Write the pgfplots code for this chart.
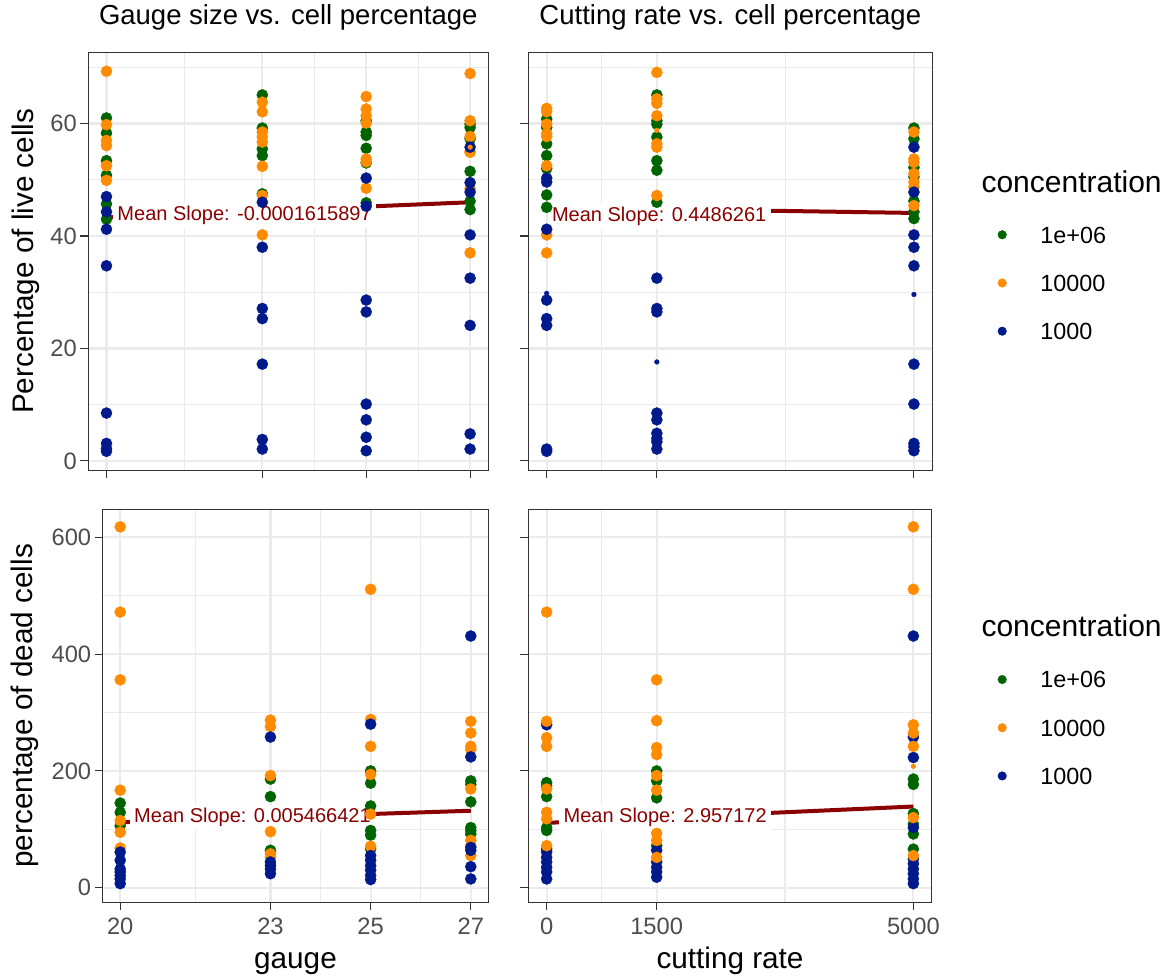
\documentclass[border=0pt]{standalone}
\usepackage{fontspec}
\setmainfont{Liberation Sans}
\usepackage{pgfplots}
\pgfplotsset{compat=1.18}
\definecolor{cgreen}{RGB}{0,100,0}
\definecolor{corange}{RGB}{255,140,0}
\definecolor{cblue}{RGB}{0,26,140}
\definecolor{cred}{RGB}{139,0,0}
\definecolor{gridc}{RGB}{235,235,235}
\definecolor{borderc}{RGB}{51,51,51}
\definecolor{tickc}{RGB}{77,77,77}
\tikzset{
  mslab/.style={anchor=west, fill=white, text=cred, inner xsep=4.5bp, inner ysep=2.8bp,
    text height=14.5bp, text depth=4.5bp, font=\fontsize{20bp}{24bp}\selectfont},
}
\pgfplotsset{
  panel/.style={
    scale only axis,
    axis line style={draw=borderc, line width=1.1bp},
    grid=both,
    major grid style={draw=gridc, line width=2.2bp},
    minor grid style={draw=gridc, line width=1.1bp},
    tick style={draw=borderc, line width=1.1bp},
    major tick length=8bp,
    minor tick length=0bp,
    tick align=outside,
    xtick pos=bottom, ytick pos=left,
    xticklabel shift=4bp,
    /pgf/number format/assume math mode=true,
    ticklabel style={font=\fontsize{23.7bp}{28bp}\selectfont, text=tickc},
    label style={font=\fontsize{29.7bp}{34bp}\selectfont, text=black},
    title style={font=\fontsize{27.5bp}{32bp}\selectfont, text=black},
  },
  gpt/.style={only marks, mark=*, mark size=5.6bp, color=#1, mark options={fill=#1, draw=#1, line width=0.3bp}, forget plot},
  spt/.style={only marks, mark=*, mark size=2.4bp, color=#1, mark options={fill=#1, draw=#1, line width=0.3bp}, forget plot},
  slope/.style={cred, line width=4bp, forget plot},
  leg/.style={
    legend style={at={#1}, anchor=north west, draw=none, fill=none, inner sep=0pt, outer sep=0pt,
      font=\fontsize{23.4bp}{28bp}\selectfont, row sep=26.2bp,
      nodes={inner sep=0pt, text height=17bp, text depth=5bp},
      /tikz/every odd column/.style={column sep=33.7bp}},
    legend cell align=left,
    legend image code/.code={\fill (0bp,2.4bp) circle (4.3bp);},
  },
}
\begin{document}
\begin{tikzpicture}
\path[use as bounding box] (0,0) rectangle (1171bp,977bp);

% ---------------- top-left: gauge vs live ----------------
\begin{axis}[panel, at={(88.3bp,506.7bp)}, anchor=south west,
  width=400bp, height=418bp,
  xmin=19.65, xmax=27.35, ymin=-1.68, ymax=72.68,
  xtick={20,23,25,27}, xticklabels={}, minor xtick={21.5,24,26},
  ytick={0,20,40,60}, yticklabels={0,20,40,60}, minor ytick={10,30,50,70},
  ylabel={Percentage of live cells},
  ylabel style={at={(axis description cs:-0.138,0.5)}, anchor=base},
  title={Gauge size vs. cell percentage},
  title style={at={(axis description cs:0.5,1.0517)}, anchor=base},
]
\addplot[gpt=cgreen] coordinates {
(20,61.0) (20,58.3) (20,53.4) (20,50.8) (20,45.7) (20,43.0)
(23,65.1) (23,59.2) (23,55.5) (23,54.3) (23,47.5)
(25,60.5) (25,58.5) (25,57.9) (25,55.6) (25,53.0) (25,45.9)
(27,59.9) (27,59.3) (27,57.3) (27,51.5) (27,46.2) (27,44.7)};
\addplot[gpt=corange] coordinates {
(20,69.3) (20,59.8) (20,57.0) (20,56.1) (20,52.5) (20,49.9)
(23,63.8) (23,62.1) (23,58.5) (23,57.6) (23,56.7) (23,52.4) (23,47.2) (23,40.2)
(25,64.8) (25,62.6) (25,61.4) (25,60.1) (25,53.7) (25,53.2) (25,48.5)
(27,68.9) (27,60.5) (27,57.7) (27,55.0) (27,54.9) (27,48.4) (27,37.0)};
\addplot[gpt=cblue] coordinates {
(20,47.0) (20,44.3) (20,41.2) (20,34.7) (20,8.5) (20,3.1) (20,2.2) (20,1.7)
(23,46.0) (23,38.0) (23,27.1) (23,25.3) (23,17.2) (23,3.8) (23,2.1)
(25,50.3) (25,45.3) (25,28.6) (25,26.5) (25,10.1) (25,7.3) (25,4.2) (25,1.8)
(27,55.8) (27,49.5) (27,47.8) (27,40.2) (27,32.5) (27,24.1) (27,4.8) (27,2.1)};
\addplot[spt=corange] coordinates {(27,55.8) (20,52.2)};
\addplot[slope] coordinates {(20,43.3) (27,46.0)};
\node[mslab, xshift=6.3bp] at (axis cs:20,43.67) {Mean Slope: -0.0001615897};
\end{axis}

% ---------------- top-right: cutting rate vs live ----------------
\begin{axis}[panel, at={(528.3bp,506.7bp)}, anchor=south west,
  width=404bp, height=418bp,
  xmin=-250, xmax=5250, ymin=-1.68, ymax=72.68,
  xtick={0,1500,5000}, xticklabels={}, minor xtick={750,3250},
  ytick={0,20,40,60}, yticklabels={}, minor ytick={10,30,50,70},
  title={Cutting rate vs. cell percentage},
  title style={at={(axis description cs:0.5,1.0517)}, anchor=base},
  leg={(1.1619,0.5840)},
]
\addplot[gpt=cgreen] coordinates {
(0,60.8) (0,59.3) (0,56.4) (0,54.3) (0,52.0) (0,47.3) (0,45.1)
(1500,65.1) (1500,60.5) (1500,59.9) (1500,57.6) (1500,53.4) (1500,51.7) (1500,46.0)
(5000,59.2) (5000,57.3) (5000,52.2) (5000,50.5) (5000,46.2) (5000,44.3) (5000,43.1)};
\addplot[gpt=corange] coordinates {
(0,62.7) (0,62.1) (0,59.9) (0,58.2) (0,57.7) (0,52.5) (0,40.2) (0,37.0)
(1500,69.1) (1500,64.4) (1500,63.6) (1500,61.4) (1500,56.4) (1500,55.8) (1500,47.2)
(5000,58.5) (5000,53.7) (5000,53.1) (5000,51.1) (5000,49.6) (5000,48.7) (5000,45.4)};
\addplot[gpt=cblue] coordinates {
(0,50.3) (0,49.6) (0,41.2) (0,28.6) (0,25.3) (0,24.1) (0,2.1) (0,1.7)
(1500,32.5) (1500,27.1) (1500,26.5) (1500,8.5) (1500,7.3) (1500,4.9) (1500,4.0) (1500,3.4) (1500,2.1)
(5000,55.8) (5000,47.8) (5000,40.2) (5000,38.0) (5000,34.7) (5000,17.2) (5000,10.1) (5000,3.1) (5000,2.5) (5000,1.8)};
\addplot[spt=cblue] coordinates {(0,29.8) (1500,17.6) (5000,29.6)};
\addplot[spt=corange] coordinates {(1500,58.8)};
\addplot[slope] coordinates {(0,45.1) (5000,44.1)};
\node[mslab, xshift=0.7bp] at (axis cs:0,43.5) {Mean Slope: 0.4486261};
\addlegendimage{cgreen}\addlegendentry{1e+06}
\addlegendimage{corange}\addlegendentry{10000}
\addlegendimage{cblue}\addlegendentry{1000}
\end{axis}

% ---------------- bottom-left: gauge vs dead ----------------
\begin{axis}[panel, at={(102.7bp,74.7bp)}, anchor=south west,
  width=385.6bp, height=393bp,
  xmin=19.65, xmax=27.35, ymin=-25, ymax=648,
  xtick={20,23,25,27}, xticklabels={20,23,25,27}, minor xtick={21.5,24,26},
  ytick={0,200,400,600}, yticklabels={0,200,400,600}, minor ytick={100,300,500},
  xlabel={gauge},
  xlabel style={at={(axis description cs:0.5,-0.1679)}, anchor=base},
  ylabel={percentage of dead cells},
  ylabel style={at={(axis description cs:-0.1808,0.5)}, anchor=base},
]
\addplot[gpt=cgreen] coordinates {
(20,145) (20,129) (20,106) (23,186) (23,156) (23,64)
(25,200) (25,179) (25,140) (25,98) (25,90) (25,66)
(27,183) (27,177) (27,147) (27,103) (27,98) (27,92)};
\addplot[gpt=corange] coordinates {
(20,618) (20,472) (20,356) (20,167) (20,115) (20,95) (20,68)
(23,287) (23,276) (23,192) (23,96) (23,58) (23,52)
(25,511) (25,288) (25,242) (25,194) (25,126) (25,71)
(27,285) (27,265) (27,242) (27,237) (27,169) (27,81) (27,72) (27,55)};
\addplot[gpt=cblue] coordinates {
(20,61) (20,47) (20,32) (20,27) (20,21) (20,15) (20,7)
(23,258) (23,44) (23,38) (23,32) (23,24)
(25,280) (25,55) (25,47) (25,38) (25,30) (25,21) (25,14)
(27,431) (27,224) (27,69) (27,64) (27,36) (27,15)};
\addplot[slope] coordinates {(20,112) (27,131.8)};
\node[mslab, xshift=9.3bp] at (axis cs:20,120.4) {Mean Slope: 0.005466421};
\end{axis}

% ---------------- bottom-right: cutting rate vs dead ----------------
\begin{axis}[panel, at={(528.3bp,74.7bp)}, anchor=south west,
  width=403.4bp, height=393bp,
  xmin=-250, xmax=5250, ymin=-25, ymax=648,
  xtick={0,1500,5000}, xticklabels={0,1500,5000}, minor xtick={750,3250},
  ytick={0,200,400,600}, yticklabels={}, minor ytick={100,300,500},
  xlabel={cutting rate},
  xlabel style={at={(axis description cs:0.5,-0.1679)}, anchor=base},
  leg={(1.1636,0.5887)},
]
\addplot[gpt=cgreen] coordinates {
(0,180) (0,174) (0,156) (0,103) (0,98)
(1500,200) (1500,183) (1500,154) (1500,72)
(5000,186) (5000,177) (5000,127) (5000,109) (5000,92) (5000,66)};
\addplot[gpt=cblue] coordinates {
(0,279) (0,66) (0,61) (0,52) (0,44) (0,35) (0,27) (0,15)
(1500,64) (1500,44) (1500,35) (1500,27) (1500,18)
(5000,431) (5000,258) (5000,223) (5000,103) (5000,49) (5000,41) (5000,32) (5000,24) (5000,15) (5000,7)};
\addplot[gpt=corange] coordinates {
(0,472) (0,285) (0,257) (0,242) (0,169) (0,129) (0,118) (0,72)
(1500,356) (1500,286) (1500,240) (1500,228) (1500,192) (1500,167) (1500,93) (1500,81) (1500,52)
(5000,618) (5000,511) (5000,279) (5000,265) (5000,242) (5000,120) (5000,55)};
\addplot[spt=corange] coordinates {(5000,208)};
\addplot[slope] coordinates {(0,111) (5000,139)};
\node[mslab, xshift=12.3bp] at (axis cs:0,120.4) {Mean Slope: 2.957172};
\addlegendimage{cgreen}\addlegendentry{1e+06}
\addlegendimage{corange}\addlegendentry{10000}
\addlegendimage{cblue}\addlegendentry{1000}
\end{axis}

% legend titles
\node[anchor=base west, font=\fontsize{30bp}{34bp}\selectfont] at (978bp,784bp) {concentration};
\node[anchor=base west, font=\fontsize{30bp}{34bp}\selectfont] at (978bp,340.3bp) {concentration};
\end{tikzpicture}
\end{document}
